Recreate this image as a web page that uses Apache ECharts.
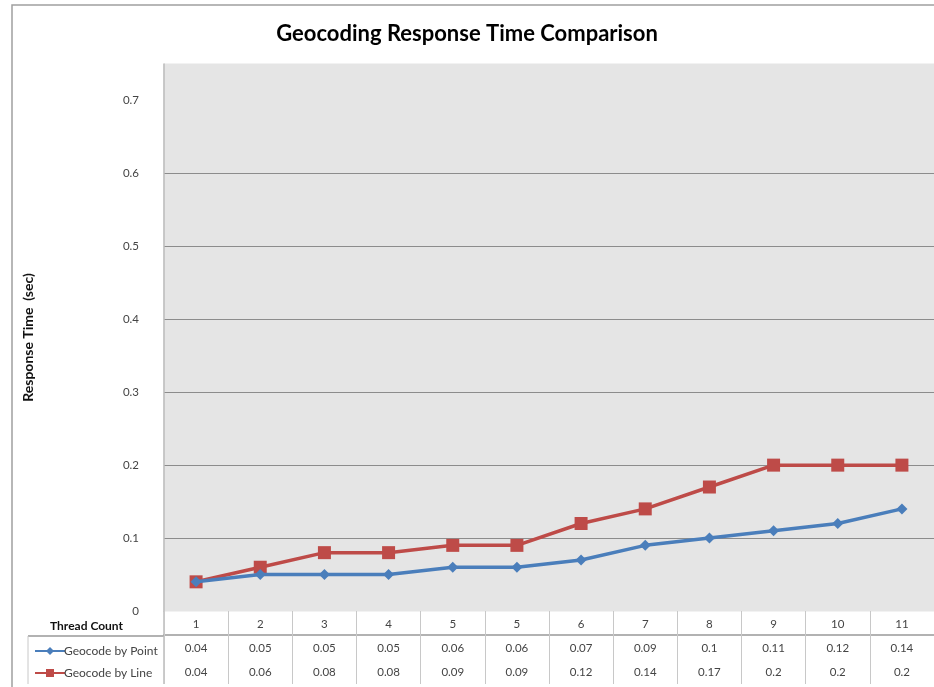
<!DOCTYPE html>
<html>
<head>
    <meta charset="utf-8">
    <title>Geocoding Response Time Comparison</title>
    <script src="https://cdn.jsdelivr.net/npm/echarts@6/dist/echarts.min.js"></script>
    <style type="text/css">
        html, body {
            margin: 0;
            padding: 0;
            background: #fff;
        }

        #chart {
            width: 934px;
            height: 687px;
        }
    </style>
</head>
<body>
    <div id="chart"></div>
    <script>
        // 数据
        var threadCount = ['1', '2', '3', '4', '5', '5', '6', '7', '8', '9', '10', '11'];
        var byPoint = [0.04, 0.05, 0.05, 0.05, 0.06, 0.06, 0.07, 0.09, 0.1, 0.11, 0.12, 0.14];
        var byLine = [0.04, 0.06, 0.08, 0.08, 0.09, 0.09, 0.12, 0.14, 0.17, 0.2, 0.2, 0.2];
        var seriesNames = ['Geocode by Point', 'Geocode by Line'];

        var font = 'Lato, "Open Sans", sans-serif';
        var tableFont = { fontFamily: font, fontSize: 11.5, color: '#444' };

        var chart = echarts.init(document.getElementById('chart'));
        var option = {
            animation: false,
            backgroundColor: '#fff',
            title: [{
                text: 'Geocoding Response Time Comparison',
                left: 'center',
                top: 18,
                textStyle: { fontFamily: font, fontSize: 22, fontWeight: 'bold', color: '#000' }
            }, {
                text: 'Thread Count',
                left: 45,
                top: 615,
                textStyle: { fontFamily: font, fontSize: 12, fontWeight: 'bold', color: '#111' }
            }],
            legend: {
                orient: 'vertical',
                left: 29,
                top: 640,
                itemGap: 10,
                itemWidth: 30,
                itemHeight: 10,
                data: seriesNames,
                textStyle: { fontFamily: font, fontSize: 12, color: '#444', padding: [0, 0, 0, -6] }
            },
            grid: {
                left: 164,
                right: 0,
                top: 64,
                bottom: 76,
                show: true,
                backgroundColor: '#e5e5e5',
                borderColor: '#e5e5e5',
                borderWidth: 1
            },
            xAxis: [{
                type: 'category',
                data: threadCount,
                boundaryGap: true,
                axisLine: { show: false },
                axisTick: { show: true, length: 73, interval: 0, lineStyle: { color: '#c8c8c8' } },
                axisLabel: Object.assign({ margin: 7, interval: 0 }, tableFont)
            }, {
                // 数据表第一行
                type: 'category',
                data: byPoint.map(String),
                position: 'bottom',
                offset: 24,
                axisLine: { show: true, lineStyle: { color: '#999', width: 1.5 } },
                axisTick: { show: false },
                axisLabel: Object.assign({ margin: 7, interval: 0 }, tableFont)
            }, {
                // 数据表第二行
                type: 'category',
                data: byLine.map(String),
                position: 'bottom',
                offset: 48,
                axisLine: { show: false },
                axisTick: { show: false },
                axisLabel: Object.assign({ margin: 7, interval: 0 }, tableFont)
            }],
            yAxis: {
                type: 'value',
                min: 0,
                max: 0.75,
                interval: 0.1,
                name: 'Response Time  (sec)',
                nameLocation: 'middle',
                nameGap: 129,
                nameTextStyle: { fontFamily: font, fontSize: 14, fontWeight: 'bold', color: '#111' },
                axisLine: { show: true, lineStyle: { color: '#bbb', width: 1.5 } },
                axisTick: { show: false },
                axisLabel: { fontFamily: font, fontSize: 11.5, color: '#444', margin: 25, showMaxLabel: false },
                splitLine: {
                    show: true,
                    lineStyle: {
                        color: ['transparent', '#8c8c8c', '#8c8c8c', '#8c8c8c', '#8c8c8c', '#8c8c8c', '#8c8c8c', 'transparent', 'transparent'],
                        width: 1.2
                    }
                }
            },
            graphic: [{
                // 外框
                type: 'rect',
                shape: { x: 12, y: 5, width: 940, height: 700 },
                style: { fill: 'none', stroke: '#a0a0a0', lineWidth: 1.5 },
                z: 100
            }, {
                type: 'line',
                shape: { x1: 28, y1: 636, x2: 164, y2: 636 },
                style: { stroke: '#999', lineWidth: 1.5 }
            }, {
                type: 'line',
                shape: { x1: 28, y1: 636, x2: 28, y2: 684 },
                style: { stroke: '#c8c8c8', lineWidth: 1 }
            }, {
                type: 'line',
                shape: { x1: 164, y1: 611, x2: 164, y2: 684 },
                style: { stroke: '#bbb', lineWidth: 1.5 }
            }],
            series: [{
                name: seriesNames[0],
                type: 'line',
                data: byPoint,
                symbol: 'diamond',
                symbolSize: 11,
                color: '#4a7ebb',
                lineStyle: { width: 3.5 },
                itemStyle: { color: '#4a7ebb' },
                z: 3
            }, {
                name: seriesNames[1],
                type: 'line',
                data: byLine,
                symbol: 'rect',
                symbolSize: 13,
                color: '#be4b48',
                lineStyle: { width: 3.5 },
                itemStyle: { color: '#be4b48' },
                z: 2
            }]
        };
        chart.setOption(option);
    </script>
</body>
</html>
